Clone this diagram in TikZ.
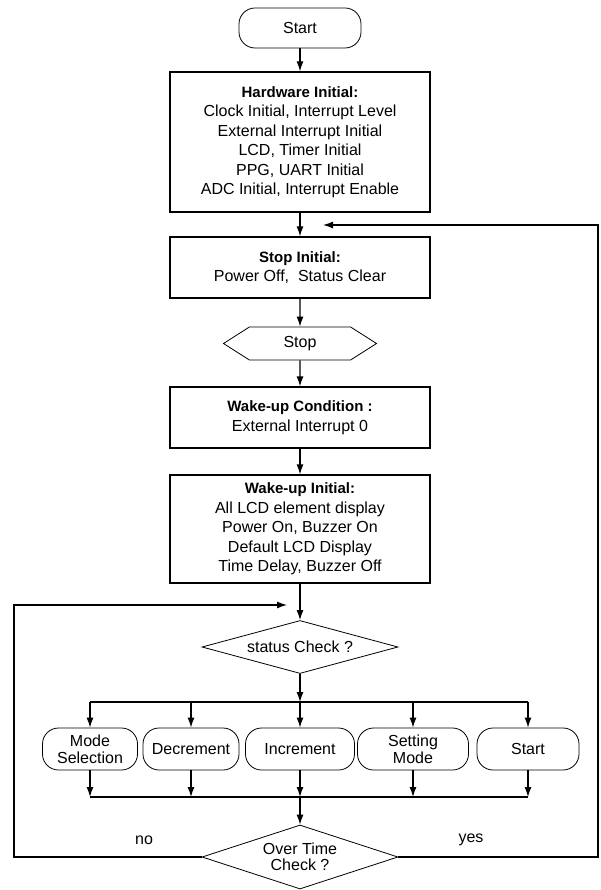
\documentclass[tikz,border=0pt]{standalone}
\usepackage{fontspec}
\setmainfont{Liberation Sans}
\usetikzlibrary{shapes.geometric,shapes.symbols,arrows.meta}
\newcommand{\hd}[1]{{\fontsize{15}{19.5}\selectfont\bfseries #1}}

\begin{document}
\begin{tikzpicture}[x=1pt, y=-1pt, line width=1.2pt, >={Latex[length=10pt,width=7pt]},
    font=\fontsize{16}{19.5}\selectfont,
    box/.style = {draw, rectangle, minimum width=260pt, align=center, inner sep=0pt},
    term/.style = {draw, rectangle, rounded corners=16pt, line width=0.8pt, minimum height=42pt, align=center, inner sep=0pt},
    dec/.style = {draw, diamond, minimum width=196pt, inner sep=0pt, align=center, line width=0.8pt},
    hex/.style = {draw, signal, signal to=west and east, signal pointer angle=65, minimum width=153pt, minimum height=33pt, inner sep=0pt, line width=0.8pt}]
    \useasboundingbox (0,0) rectangle (600,890);
    \node[term, minimum width=122pt, minimum height=40pt] (1) at (300,28) {Start};
    \node[box, minimum height=140pt] (2) at (300,142) {\hd{Hardware Initial:}\\Clock Initial, Interrupt Level\\External Interrupt Initial\\LCD, Timer Initial\\PPG, UART Initial\\ADC Initial, Interrupt Enable};
    \node[box, minimum height=61pt] (3) at (300,267.5) {\hd{Stop Initial:}\\Power Off,\ \ Status Clear};
    \node[hex] (4) at (300,343.5) {Stop};
    \node[box, minimum height=61pt] (5) at (300,417.5) {\hd{Wake-up Condition :}\\External Interrupt 0};
    \node[box, minimum height=108pt] (6) at (300,529) {\hd{Wake-up Initial:}\\All LCD element display\\Power On, Buzzer On\\Default LCD Display\\Time Delay, Buzzer Off};
    \node[dec, aspect=3.7, minimum height=53pt] (7) at (300,647) {status Check ?};
    \node[term, minimum width=95pt, font=\fontsize{16}{17}\selectfont] (8) at (90,749) {Mode\\Selection};
    \node[term, minimum width=96pt] (9) at (191,749) {Decrement};
    \node[term, minimum width=109pt] (10) at (300,749) {Increment};
    \node[term, minimum width=111pt, font=\fontsize{16}{17}\selectfont] (11) at (413,749) {Setting\\Mode};
    \node[term, minimum width=102pt] (12) at (528,749) {Start};
    \node[dec, aspect=3.06, minimum height=64pt, font=\fontsize{16}{15.5}\selectfont] (13) at (300,857) {Over Time\\Check ?};
    \node (14) at (144,840) {no};
    \node (15) at (471,840) {yes};

    % bus lines
    \coordinate (b1) at (90,702);
    \coordinate (b3) at (300,702);
    \coordinate (b5) at (528,702);
    \coordinate (c1) at (90,797);
    \coordinate (c3) at (300,797);
    \coordinate (c5) at (528,797);
    % loop ends
    \coordinate (l1) at (14,857);
    \coordinate (l3) at (287,605);
    \coordinate (r1) at (598,857);
    \coordinate (r3) at (323,225);

    \draw[->] (1) -- (2);
    \draw[->] (2) -- (3);
    \draw[->] (3) -- (4);
    \draw[->] (4) -- (5);
    \draw[->] (5) -- (6);
    \draw[->] (6) -- (7);
    \draw[->] (7) -- (b3);
    \draw (b1) -- (b5);
    \foreach \n in {8,...,12} \draw[->] (\n |- b1) -- (\n);
    \foreach \n in {8,...,12} \draw[->] (\n) -- (\n |- c1);
    \draw (c1) -- (c5);
    \draw[->] (c3) -- (13);
    \draw[->] (13) -- (l1) |- (l3);
    \draw[->] (13) -- (r1) |- (r3);
\end{tikzpicture}
\end{document}
